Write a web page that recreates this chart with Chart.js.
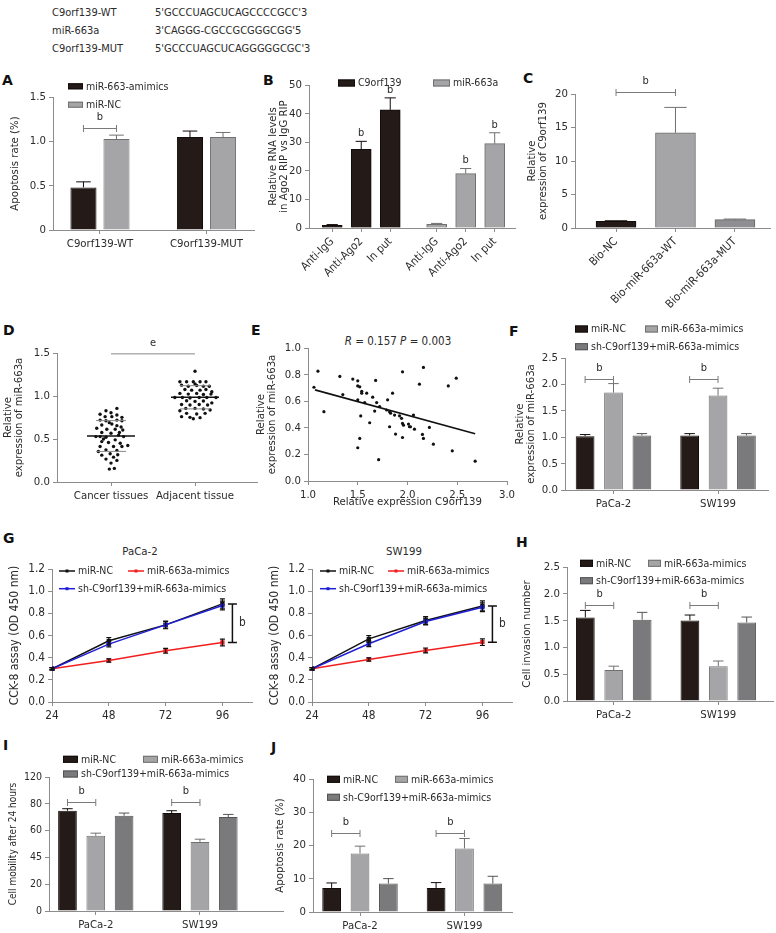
<!DOCTYPE html>
<html>
<head>
<meta charset="utf-8">
<script src="https://cdn.jsdelivr.net/npm/chart.js@4.4.1/dist/chart.umd.min.js"></script>
<style>
  body { margin: 0; width: 776px; height: 933px; position: relative; overflow: hidden; background: #fff;
         font-family: 'DejaVu Sans Condensed', 'Noto Sans', sans-serif; color: #2b2b2b; }
  canvas { position: absolute; }
  .txt { position: absolute; font-size: 11px; line-height: 14px; white-space: nowrap; }
  .lab { position: absolute; font: bold 14px 'DejaVu Sans', sans-serif; line-height: 16px; color: #111; }
</style>
</head>
<body>
<script>
// ---------- data ----------
const seqNames = ['C9orf139-WT', 'miR-663a', 'C9orf139-MUT'];
const seqs = ["5'GCCCUAGCUCAGCCCCGCC'3", "3'CAGGG-CGCCGCGGGCGG'5", "5'GCCCUAGCUCAGGGGGCGC'3"];

// A
const aCats = ['C9orf139-WT', 'C9orf139-MUT'];
const aSeries = ['miR-663-amimics', 'miR-NC'];
const aMimics = [0.48, 1.048];
const aMimicsErr = [0.063, 0.068];
const aNC = [1.025, 1.048];
const aNCErr = [0.045, 0.052];

// B
const bLabels = ['Anti-IgG', 'Anti-Ago2', 'In put'];
const bSeries = ['C9orf139', 'miR-663a'];
const bC9 = [0.9, 27.5, 41.3];
const bC9Err = [0.3, 2.8, 4.2];
const bMiR = [1.3, 19.0, 29.5];
const bMiRErr = [0.3, 1.8, 3.8];

// C
const cCats = ['Bio-NC', 'Bio-miR-663a-WT', 'Bio-miR-663a-MUT'];
const cVals = [1.0, 14.2, 1.25];
const cErr = [0.08, 3.8, 0.08];

// D
const dCats = ['Cancer tissues', 'Adjacent tissue'];
const dCancer = [0.856,0.829,0.806,0.787,0.779,0.760,0.760,0.752,0.720,0.713,0.720,0.713,0.675,0.663,0.655,0.625,0.613,0.613,0.605,0.575,0.567,0.575,0.528,0.528,0.520,0.528,0.490,0.424,0.470,0.459,0.451,0.413,0.413,0.413,0.374,0.366,0.355,0.328,0.312,0.316,0.289,0.266,0.251,0.220,0.150,0.158,0.545,0.500,0.690,0.640];
const dCancerJit = [0.07,-0.06,0.00,-0.13,0.07,-0.07,0.01,0.13,-0.13,-0.06,0.07,0.13,0.01,-0.11,0.07,-0.17,-0.05,0.05,0.14,-0.11,0.00,0.10,-0.18,-0.13,-0.06,0.15,0.05,0.20,-0.11,-0.03,0.11,-0.13,0.03,0.13,-0.06,0.07,-0.15,-0.01,-0.11,0.08,0.03,-0.06,0.07,0.00,-0.02,0.04,0.09,-0.09,-0.02,0.12];
const dAdj = [1.288,1.165,1.165,1.165,1.165,1.165,1.126,1.114,1.122,1.114,1.114,1.076,1.068,1.068,1.076,1.030,1.022,1.030,1.018,1.022,0.983,0.983,0.976,0.983,0.983,0.983,0.945,0.937,0.941,0.902,0.895,0.902,0.895,0.856,0.856,0.848,0.829,0.837,0.798,0.790,0.798,0.752,0.760,0.748,0.736,1.050,0.920,1.140];
const dAdjJit = [0.00,-0.18,-0.10,-0.02,0.06,0.13,-0.16,-0.08,0.02,0.10,0.17,-0.12,-0.04,0.06,0.13,-0.18,-0.08,0.02,0.10,0.19,-0.24,-0.15,-0.06,0.05,0.14,0.25,-0.10,0.00,0.10,-0.16,-0.06,0.05,0.15,-0.11,0.00,0.10,-0.18,0.18,-0.10,0.02,0.12,-0.06,-0.16,0.06,-0.02,0.20,0.20,0.00];
const dMean = [0.535, 0.985];
const dSD = [0.179, 0.135];

// E
const eX = [1.06,1.10,1.16,1.32,1.35,1.45,1.50,1.50,1.52,1.50,1.53,1.52,1.50,1.54,1.54,1.59,1.57,1.62,1.65,1.67,1.68,1.69,1.71,1.72,1.80,1.79,1.82,1.83,1.82,1.85,1.87,1.88,1.95,1.92,1.94,1.95,1.95,1.96,2.01,2.02,2.03,2.06,2.07,2.12,2.15,2.16,2.16,2.22,2.26,2.41,2.45,2.49,2.68];
const eY = [0.705,0.826,0.521,0.786,0.65,0.766,0.753,0.715,0.708,0.61,0.489,0.32,0.25,0.675,0.66,0.66,0.59,0.438,0.63,0.526,0.756,0.59,0.16,0.56,0.61,0.534,0.52,0.51,0.408,0.66,0.496,0.353,0.821,0.49,0.471,0.433,0.327,0.42,0.428,0.408,0.408,0.496,0.39,0.728,0.35,0.854,0.32,0.403,0.277,0.715,0.227,0.773,0.149];
const eFitX = [1.07, 2.68];
const eFitY = [0.685, 0.355];

// F, H, I, J share groups and series
const cellLines = ['PaCa-2', 'SW199'];
const series3 = ['miR-NC', 'miR-663a-mimics', 'sh-C9orf139+miR-663a-mimics'];

const fNC = [1.02, 1.033], fNCErr = [0.03, 0.035];
const fMim = [1.845, 1.788], fMimErr = [0.17, 0.14];
const fSh = [1.033, 1.033], fShErr = [0.035, 0.035];

// G
const hours = [24, 48, 72, 96];
const gPacaNC = [0.30, 0.552, 0.696, 0.885], gPacaNCErr = [0.01, 0.03, 0.035, 0.045];
const gPacaMim = [0.30, 0.375, 0.462, 0.537], gPacaMimErr = [0.01, 0.015, 0.022, 0.03];
const gPacaSh = [0.30, 0.522, 0.696, 0.870], gPacaShErr = [0.01, 0.025, 0.03, 0.04];
const gSwNC = [0.30, 0.570, 0.735, 0.867], gSwNCErr = [0.01, 0.03, 0.035, 0.045];
const gSwMim = [0.30, 0.384, 0.465, 0.540], gSwMimErr = [0.01, 0.015, 0.022, 0.03];
const gSwSh = [0.30, 0.525, 0.726, 0.855], gSwShErr = [0.01, 0.025, 0.03, 0.04];

const hNC = [1.56, 1.504], hNCErr = [0.13, 0.10];
const hMim = [0.577, 0.65], hMimErr = [0.073, 0.096];
const hSh = [1.516, 1.466], hShErr = [0.138, 0.10];

const iTickLabels = ['0', '20', '45', '60', '80', '120'];
const iNC = [89.8, 87.7], iNCErr = [1.8, 2.1];
const iMim = [67.3, 61.9], iMimErr = [2.4, 2.4];
const iSh = [85.3, 84.1], iShErr = [2.4, 2.4];

const jNC = [7.24, 7.24], jNCErr = [1.5, 1.6];
const jMim = [17.6, 19.1], jMimErr = [2.2, 3.0];
const jSh = [8.54, 8.54], jShErr = [1.5, 2.2];

// ---------- style ----------
const TXT = '#2b2b2b', AX = '#8c8c8c';
const BLK = '#241a17', BLKB = '#120c0a';
const LG = '#a5a5a7', LGB = '#707070';
const MG = '#8f8f91', MGB = '#666666';
const DG = '#7a7a7c', DGB = '#545454';
const RED = '#f21d1d', BLUE = '#1f1fd6', LBLK = '#111111';
const FONT = "'DejaVu Sans Condensed', 'Noto Sans', sans-serif";
const FS = 10.5;     // legends, marks
const TS = 11.3;     // tick labels
const TT = 11.3;     // axis titles

Chart.defaults.font.family = FONT;
Chart.defaults.font.size = FS;
Chart.defaults.color = TXT;

const f1 = v => v.toFixed(1);
const fi = v => String(v);

function lin(min, max, step, fmt, size) {
  return {
    type: 'linear', min, max, offset: false,
    ticks: { stepSize: step, callback: fmt, padding: 3, color: TXT, autoSkip: false, maxRotation: 0, font: { size: size || TS } },
    grid: { drawOnChartArea: false, tickLength: 4, color: AX, offset: false },
    border: { color: AX }
  };
}
function idxX(min, max, pos, labels, rot) {
  const s = lin(min, max, 1, (v, k) => labels[k]);
  s.afterBuildTicks = sc => { sc.ticks = pos.map(v => ({ value: v })); };
  if (rot) { s.ticks.minRotation = rot; s.ticks.maxRotation = rot; }
  return s;
}

function mk(box, plot, cfg, yt, xt, deco) {
  const [l, t, r, b] = box;
  const cv = document.createElement('canvas');
  cv.width = r - l; cv.height = b - t;
  cv.style.left = l + 'px'; cv.style.top = t + 'px';
  document.body.appendChild(cv);
  const o = cfg.options;
  o.responsive = false;
  o.animation = false;
  o.events = [];
  o.layout = { padding: { left: 0, top: plot[1] - t, right: r - plot[2], bottom: 0 } };
  o.plugins = { legend: { display: false }, tooltip: { enabled: false } };
  const xs = o.scales.x, ys = o.scales.y;
  xs.afterFit = s => { s.height = b - plot[3]; s.paddingLeft = 0; s.paddingRight = 0; };
  ys.afterFit = s => { s.width = plot[0] - l; s.paddingTop = 0; s.paddingBottom = 0; };
  if (yt) {
    const sz = yt.size || TT;
    ys.title = { display: true, text: yt.text, color: TXT, font: { size: sz, lineHeight: 0.95 },
                 padding: { top: yt.x - l - sz * 0.475, bottom: 0 } };
  }
  if (xt) {
    xs.title = { display: true, text: xt.text, color: TXT, font: { size: TT, lineHeight: 0.95 },
                 padding: { top: 0, bottom: b - xt.y - TT * 0.475 } };
  }
  cfg.plugins = [{ id: 'deco', afterDatasetsDraw(ch) {
    const c = ch.ctx; c.save(); deco(c, ch, (x, y) => [x - l, y - t]); c.restore();
  } }];
  return new Chart(cv, cfg);
}

function txt(c, s, x, y, align, size) {
  c.fillStyle = TXT; c.font = (size || FS) + 'px ' + FONT;
  c.textAlign = align || 'center'; c.textBaseline = 'middle';
  c.fillText(s, x, y);
}
function bar(label, vals, err, fill, line) {
  return { label, data: vals.map((v, k) => ({ x: k, y: v })), err, backgroundColor: fill, borderColor: line, borderWidth: 1 };
}
function errBars(c, ch) {
  const y = ch.scales.y;
  ch.data.datasets.forEach((ds, d) => {
    if (!ds.err) return;
    ch.getDatasetMeta(d).data.forEach((el, k) => {
      const top = y.getPixelForValue(ds.data[k].y + ds.err[k]);
      const w = el.width * 0.28;
      c.strokeStyle = Array.isArray(ds.borderColor) ? ds.borderColor[k] : ds.borderColor;
      c.lineWidth = 1;
      c.beginPath();
      c.moveTo(el.x, el.y); c.lineTo(el.x, top);
      c.moveTo(el.x - w, top); c.lineTo(el.x + w, top);
      c.stroke();
    });
  });
}
function bracket(c, ch, a, b, level, mark) {
  const yy = Math.round(ch.scales.y.getPixelForValue(level)) + 0.5;
  c.strokeStyle = '#7a7a7a'; c.lineWidth = 1;
  c.beginPath();
  c.moveTo(a.x, yy - 3.5); c.lineTo(a.x, yy + 3.5);
  c.moveTo(b.x, yy - 3.5); c.lineTo(b.x, yy + 3.5);
  c.moveTo(a.x, yy); c.lineTo(b.x, yy);
  c.stroke();
  txt(c, mark || 'b', (a.x + b.x) / 2, yy - 11, 'center', 11);
}
function legSq(c, P, x, y, w, h, fill, line, text) {
  const [a, b] = P(x, y);
  c.fillStyle = fill; c.fillRect(a, b - h / 2, w, h);
  c.strokeStyle = line; c.lineWidth = 1; c.strokeRect(a + 0.5, b - h / 2 + 0.5, w - 1, h - 1);
  txt(c, text, a + w + 3, b + 0.5, 'left');
}
function legLine(c, P, x, y, w, col, text) {
  const [a, b] = P(x, y);
  c.strokeStyle = col; c.lineWidth = 1.5;
  c.beginPath(); c.moveTo(a, b); c.lineTo(a + w, b); c.stroke();
  c.fillStyle = col; c.fillRect(a + w / 2 - 1.5, b - 1.5, 3, 3);
  txt(c, text, a + w + 3, b + 0.5, 'left');
}

// ---------- plain text ----------
function addDiv(cls, html, x, y, center, extra) {
  const d = document.createElement('div');
  d.className = cls; d.innerHTML = html;
  d.style.left = x + 'px'; d.style.top = y + 'px';
  if (center) d.style.transform = 'translateX(-50%)';
  if (extra) Object.assign(d.style, extra);
  document.body.appendChild(d);
}
seqNames.forEach((s, k) => {
  addDiv('txt', s, 52, 6 + k * 18);
  addDiv('txt', seqs[k], 155, 6 + k * 18);
});
[['A', 2, 80], ['B', 263, 80], ['C', 523, 78], ['D', 3, 330], ['E', 251, 330], ['F', 509, 331],
 ['G', 3, 538], ['H', 516, 542], ['I', 3, 745], ['J', 271, 747]].forEach(([s, x, y]) => addDiv('lab', s, x, y - 8));
addDiv('txt', '<i>R</i> = 0.157 <i>P</i> = 0.003', 398, 334, true, { fontSize: '11.5px' });
addDiv('txt', cellLines[0], 140, 545, true, { fontSize: '11.3px' });
addDiv('txt', cellLines[1], 404, 545, true, { fontSize: '11.3px' });

// ---------- A ----------
mk([8, 60, 262, 256], [53, 97, 254, 230], {
  type: 'bar',
  data: { datasets: [bar(aSeries[0], aMimics, aMimicsErr, BLK, BLKB), bar(aSeries[1], aNC, aNCErr, LG, LGB)] },
  options: {
    datasets: { bar: { categoryPercentage: 0.62, barPercentage: 0.79 } },
    scales: { x: idxX(-0.441, 1.446, [0, 1], aCats), y: lin(0, 1.5, 0.5, v => v === 0 ? '0' : v.toFixed(1)) }
  }
}, { text: 'Apoptosis rate (%)', x: 15 }, null, (c, ch, P) => {
  errBars(c, ch);
  bracket(c, ch, ch.getDatasetMeta(0).data[0], ch.getDatasetMeta(1).data[0], 1.147);
  legSq(c, P, 68, 86.3, 15, 6, BLK, BLKB, aSeries[0]);
  legSq(c, P, 68, 104.7, 15, 6, LG, LGB, aSeries[1]);
});

// ---------- B ----------
const bPos = [0, 1, 2, 3.6, 4.6, 5.6];
{
  const d0 = bar(bSeries[0], bC9, bC9Err, BLK, BLKB);
  d0.data = bC9.map((v, k) => ({ x: bPos[k], y: v }));
  const d1 = bar(bSeries[1], bMiR, bMiRErr, LG, LGB);
  d1.data = bMiR.map((v, k) => ({ x: bPos[k + 3], y: v }));
  mk([266, 62, 520, 300], [309, 85, 515, 228], {
    type: 'bar',
    data: { datasets: [d0, d1] },
    options: {
      datasets: { bar: { grouped: false, categoryPercentage: 1, barPercentage: 1, maxBarThickness: 20 } },
      scales: { x: idxX(-0.8, 6.3, bPos, bPos.map((_, k) => bLabels[k % 3]), 45), y: lin(0, 50, 10, fi) }
    }
  }, { text: ['Relative RNA levels', 'in Ago2 RIP vs IgG RIP'], x: 273 }, null, (c, ch, P) => {
    errBars(c, ch);
    [0, 1].forEach(d => [1, 2].forEach(k => {
      const ds = ch.data.datasets[d], el = ch.getDatasetMeta(d).data[k];
      txt(c, 'b', el.x, ch.scales.y.getPixelForValue(ds.data[k].y + ds.err[k]) - 8, 'center', 11);
    }));
    legSq(c, P, 338, 83, 17, 7, BLK, BLKB, bSeries[0]);
    legSq(c, P, 433, 83, 17, 7, LG, LGB, bSeries[1]);
  });
}

// ---------- C ----------
mk([520, 60, 776, 310], [575, 94, 770, 228], {
  type: 'bar',
  data: { datasets: [{ label: 'C9orf139', data: cVals.map((v, k) => ({ x: k, y: v })), err: cErr,
    backgroundColor: [BLK, LG, MG], borderColor: [BLKB, LGB, MGB], borderWidth: 1, barThickness: 40 }] },
  options: { scales: { x: idxX(-0.69, 2.59, [0, 1, 2], cCats, 45), y: lin(0, 20, 5, fi) } }
}, { text: ['Relative', 'expression of C9orf139'], x: 532 }, null, (c, ch) => {
  errBars(c, ch);
  const m = ch.getDatasetMeta(0).data;
  bracket(c, ch, m[0], m[1], 20.3);
});

// ---------- D ----------
mk([0, 320, 262, 510], [57, 353, 257, 482], {
  type: 'scatter',
  data: { datasets: [
    { data: dCancer.map((v, k) => ({ x: dCancerJit[k], y: v })), pointRadius: 1.7, backgroundColor: '#111', borderColor: '#111', borderWidth: 0 },
    { data: dAdj.map((v, k) => ({ x: 1 + dAdjJit[k], y: v })), pointRadius: 1.7, backgroundColor: '#111', borderColor: '#111', borderWidth: 0 }
  ] },
  options: { scales: { x: idxX(-0.643, 1.738, [0, 1], dCats), y: lin(0, 1.5, 0.5, f1) } }
}, { text: ['Relative', 'expression of miR-663a'], x: 8 }, null, (c, ch) => {
  const xs = ch.scales.x, ys = ch.scales.y;
  dMean.forEach((m, k) => {
    const cx = xs.getPixelForValue(k);
    c.strokeStyle = '#111'; c.lineWidth = 1.5;
    c.beginPath(); c.moveTo(cx - 24, ys.getPixelForValue(m)); c.lineTo(cx + 24, ys.getPixelForValue(m)); c.stroke();
    c.strokeStyle = '#888'; c.lineWidth = 1;
    [m - dSD[k], m + dSD[k]].forEach(v => {
      c.beginPath(); c.moveTo(cx - 15, ys.getPixelForValue(v)); c.lineTo(cx + 15, ys.getPixelForValue(v)); c.stroke();
    });
  });
  const yy = ys.getPixelForValue(1.49);
  c.strokeStyle = '#888'; c.lineWidth = 1;
  c.beginPath(); c.moveTo(xs.getPixelForValue(0), yy); c.lineTo(xs.getPixelForValue(1), yy); c.stroke();
  txt(c, 'e', (xs.getPixelForValue(0) + xs.getPixelForValue(1)) / 2, yy - 11, 'center', 11);
});

// ---------- E ----------
mk([255, 330, 515, 512], [308, 348, 507, 481], {
  type: 'scatter',
  data: { datasets: [
    { data: eX.map((v, k) => ({ x: v, y: eY[k] })), pointRadius: 1.6, backgroundColor: '#111', borderColor: '#111', borderWidth: 0 },
    { type: 'line', data: eFitX.map((v, k) => ({ x: v, y: eFitY[k] })), borderColor: '#111', borderWidth: 1.6, pointRadius: 0, showLine: true }
  ] },
  options: { scales: { x: lin(1, 3, 0.5, f1), y: lin(0, 1, 0.2, f1) } }
}, { text: ['Relative', 'expression of miR-663a'], x: 261 }, { text: 'Relative expression C9orf139', y: 502 }, () => {});

// ---------- grouped 3-series bars ----------
function grouped3(box, plot, yScale, yt, vals, errs, leg, level, xr) {
  const fills = [[BLK, BLKB], [LG, LGB], [DG, DGB]];
  mk(box, plot, {
    type: 'bar',
    data: { datasets: series3.map((s, d) => bar(s, vals[d], errs[d], fills[d][0], fills[d][1])) },
    options: {
      datasets: { bar: { categoryPercentage: 0.815, barPercentage: 0.66 } },
      scales: { x: idxX(xr[0], xr[1], [0, 1], cellLines), y: yScale }
    }
  }, yt, null, (c, ch, P) => {
    errBars(c, ch);
    cellLines.forEach((_, k) => bracket(c, ch, ch.getDatasetMeta(0).data[k], ch.getDatasetMeta(1).data[k], level));
    const [x1, x2, y1, y2, w] = leg;
    legSq(c, P, x1, y1, w, 7, BLK, BLKB, series3[0]);
    legSq(c, P, x2, y1, w, 7, LG, LGB, series3[1]);
    legSq(c, P, x1, y2, w, 7, DG, DGB, series3[2]);
  });
}

grouped3([514, 315, 776, 515], [565, 358, 768, 490], lin(0, 2.5, 0.5, f1),
  { text: ['Relative', 'expression of miR-663a'], x: 520 },
  [fNC, fMim, fSh], [fNCErr, fMimErr, fShErr], [575, 645, 329, 346.7, 13], 2.11, [-0.464, 1.478]);

grouped3([520, 545, 776, 730], [567, 567, 773, 701], lin(0, 2.5, 0.5, f1),
  { text: 'Cell invasion number', x: 527 },
  [hNC, hMim, hSh], [hNCErr, hMimErr, hShErr], [580, 648, 563.3, 580.7, 13], 1.80, [-0.447, 1.523]);

{
  const iy = lin(0, 120, 20, (v, k) => iTickLabels[k], 10.5);
  iy.afterBuildTicks = s => { s.ticks = iTickLabels.map((_, k) => ({ value: k * 120 / (iTickLabels.length - 1) })); };
  grouped3([4, 740, 290, 933], [49, 777, 283, 911], iy,
    { text: 'Cell mobility after 24 hours', x: 13, size: 10 },
    [iNC, iMim, iSh], [iNCErr, iMimErr, iShErr], [63, 143, 759.3, 774, 15], 97.9, [-0.449, 1.797]);
}

grouped3([272, 740, 520, 933], [313, 779, 512, 912], lin(0, 40, 10, fi),
  { text: 'Apoptosis rate (%)', x: 280 },
  [jNC, jMim, jSh], [jNCErr, jMimErr, jShErr], [327, 395, 779.3, 797.3, 13], 23.7, [-0.45, 1.455]);

// ---------- G ----------
function gPanel(box, plot, vals, errs, lx) {
  const cols = [LBLK, RED, BLUE];
  const order = [2, 0, 1];
  mk(box, plot, {
    type: 'line',
    data: { datasets: order.map(d => ({
      label: series3[d], data: hours.map((h, k) => ({ x: h, y: vals[d][k] })), err: errs[d],
      borderColor: cols[d], backgroundColor: cols[d], borderWidth: 1.5, pointStyle: 'rect', pointRadius: 2, tension: 0
    })) },
    options: {
      scales: {
        x: Object.assign(lin(24, 108.5, 24, fi, 11.8), { afterBuildTicks: s => { s.ticks = hours.map(v => ({ value: v })); } }),
        y: lin(0, 1.2, 0.2, f1, 11.8)
      }
    }
  }, { text: 'CCK-8 assay (OD 450 nm)', x: box[0] + 7, size: 12 }, null, (c, ch, P) => {
    const y = ch.scales.y;
    ch.data.datasets.forEach((ds, d) => {
      ch.getDatasetMeta(d).data.forEach((el, k) => {
        const t = y.getPixelForValue(ds.data[k].y + ds.err[k]), b = y.getPixelForValue(ds.data[k].y - ds.err[k]);
        c.strokeStyle = '#111'; c.lineWidth = 1.2;
        c.beginPath();
        c.moveTo(el.x, t); c.lineTo(el.x, b);
        c.moveTo(el.x - 2.5, t); c.lineTo(el.x + 2.5, t);
        c.moveTo(el.x - 2.5, b); c.lineTo(el.x + 2.5, b);
        c.stroke();
      });
    });
    const iNCd = order.indexOf(0), iMd = order.indexOf(1), last = hours.length - 1;
    const p1 = ch.getDatasetMeta(iNCd).data[last], p2 = ch.getDatasetMeta(iMd).data[last];
    const bx = p1.x + 10;
    c.strokeStyle = '#111'; c.lineWidth = 1.5;
    c.beginPath();
    c.moveTo(bx, p1.y); c.lineTo(bx, p2.y);
    c.moveTo(bx - 4.5, p1.y); c.lineTo(bx + 4.5, p1.y);
    c.moveTo(bx - 4.5, p2.y); c.lineTo(bx + 4.5, p2.y);
    c.stroke();
    txt(c, 'b', bx + 10, (p1.y + p2.y) / 2, 'center', 11.8);
    legLine(c, P, lx[0], 571, 16, LBLK, series3[0]);
    legLine(c, P, lx[1], 571, 16, RED, series3[1]);
    legLine(c, P, lx[0], 588.7, 16, BLUE, series3[2]);
  });
}
gPanel([8, 545, 262, 730], [52, 569, 252, 702],
  [gPacaNC, gPacaMim, gPacaSh], [gPacaNCErr, gPacaMimErr, gPacaShErr], [59, 128]);
gPanel([268, 545, 525, 730], [312, 569, 512, 702],
  [gSwNC, gSwMim, gSwSh], [gSwNCErr, gSwMimErr, gSwShErr], [320, 388]);
</script>
</body>
</html>
